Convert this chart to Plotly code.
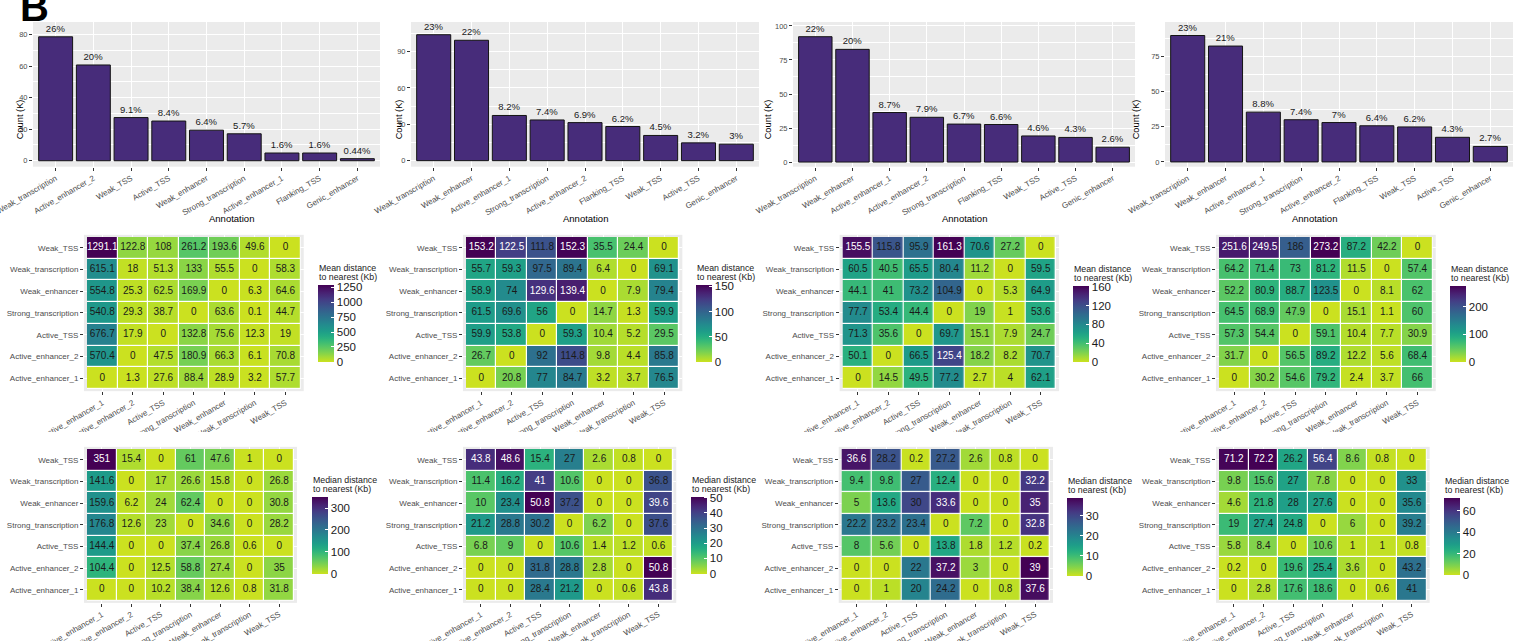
import numpy as np
import plotly.graph_objects as go

W, H = 1515, 641
FONT = "Liberation Sans, Arial, Helvetica, sans-serif"
GREY_TXT = "#4d4d4d"

# ---------------- bar panels: region counts (K) per chromatin state ----------------
bar1_labels = ["Weak_transcription", "Active_enhancer_2", "Weak_TSS", "Active_TSS", "Weak_enhancer",
               "Strong_transcription", "Active_enhancer_1", "Flanking_TSS", "Genic_enhancer"]
bar1_counts = [78.7, 60.8, 27.4, 25.2, 19.4, 17.1, 4.9, 4.9, 1.3]
bar1_pct = ["26%", "20%", "9.1%", "8.4%", "6.4%", "5.7%", "1.6%", "1.6%", "0.44%"]

bar2_labels = ["Weak_transcription", "Weak_enhancer", "Active_enhancer_1", "Strong_transcription",
               "Active_enhancer_2", "Flanking_TSS", "Weak_TSS", "Active_TSS", "Genic_enhancer"]
bar2_counts = [104.0, 99.4, 37.3, 33.6, 31.4, 28.2, 20.8, 14.7, 13.6]
bar2_pct = ["23%", "22%", "8.2%", "7.4%", "6.9%", "6.2%", "4.5%", "3.2%", "3%"]

bar3_labels = ["Weak_transcription", "Weak_enhancer", "Active_enhancer_1", "Active_enhancer_2",
               "Strong_transcription", "Flanking_TSS", "Weak_TSS", "Active_TSS", "Genic_enhancer"]
bar3_counts = [92.1, 82.8, 36.4, 32.9, 27.9, 27.6, 19.2, 18.1, 10.9]
bar3_pct = ["22%", "20%", "8.7%", "7.9%", "6.7%", "6.6%", "4.6%", "4.3%", "2.6%"]

bar4_labels = ["Weak_transcription", "Weak_enhancer", "Active_enhancer_1", "Strong_transcription",
               "Active_enhancer_2", "Flanking_TSS", "Weak_TSS", "Active_TSS", "Genic_enhancer"]
bar4_counts = [89.9, 82.4, 35.4, 30.0, 28.0, 25.7, 24.9, 17.5, 11.0]
bar4_pct = ["23%", "21%", "8.8%", "7.4%", "7%", "6.4%", "6.2%", "4.3%", "2.7%"]

# ---------------- heatmaps: distance to nearest region of another state (Kb) ----------------
rows = ["Weak_TSS", "Weak_transcription", "Weak_enhancer", "Strong_transcription",
        "Active_TSS", "Active_enhancer_2", "Active_enhancer_1"]          # top to bottom
cols = ["Active_enhancer_1", "Active_enhancer_2", "Active_TSS", "Strong_transcription",
        "Weak_enhancer", "Weak_transcription", "Weak_TSS"]

mean1 = [[1291.1, 122.8, 108, 261.2, 193.6, 49.6, 0],
         [615.1, 18, 51.3, 133, 55.5, 0, 58.3],
         [554.8, 25.3, 62.5, 169.9, 0, 6.3, 64.6],
         [540.8, 29.3, 38.7, 0, 63.6, 0.1, 44.7],
         [676.7, 17.9, 0, 132.8, 75.6, 12.3, 19],
         [570.4, 0, 47.5, 180.9, 66.3, 6.1, 70.8],
         [0, 1.3, 27.6, 88.4, 28.9, 3.2, 57.7]]
mean2 = [[153.2, 122.5, 111.8, 152.3, 35.5, 24.4, 0],
         [55.7, 59.3, 97.5, 89.4, 6.4, 0, 69.1],
         [58.9, 74, 129.6, 139.4, 0, 7.9, 79.4],
         [61.5, 69.6, 56, 0, 14.7, 1.3, 59.9],
         [59.9, 53.8, 0, 59.3, 10.4, 5.2, 29.5],
         [26.7, 0, 92, 114.8, 9.8, 4.4, 85.8],
         [0, 20.8, 77, 84.7, 3.2, 3.7, 76.5]]
mean3 = [[155.5, 115.8, 95.9, 161.3, 70.6, 27.2, 0],
         [60.5, 40.5, 65.5, 80.4, 11.2, 0, 59.5],
         [44.1, 41, 73.2, 104.9, 0, 5.3, 64.9],
         [77.7, 53.4, 44.4, 0, 19, 1, 53.6],
         [71.3, 35.6, 0, 69.7, 15.1, 7.9, 24.7],
         [50.1, 0, 66.5, 125.4, 18.2, 8.2, 70.7],
         [0, 14.5, 49.5, 77.2, 2.7, 4, 62.1]]
mean4 = [[251.6, 249.5, 186, 273.2, 87.2, 42.2, 0],
         [64.2, 71.4, 73, 81.2, 11.5, 0, 57.4],
         [52.2, 80.9, 88.7, 123.5, 0, 8.1, 62],
         [64.5, 68.9, 47.9, 0, 15.1, 1.1, 60],
         [57.3, 54.4, 0, 59.1, 10.4, 7.7, 30.9],
         [31.7, 0, 56.5, 89.2, 12.2, 5.6, 68.4],
         [0, 30.2, 54.6, 79.2, 2.4, 3.7, 66]]

median1 = [[351, 15.4, 0, 61, 47.6, 1, 0],
           [141.6, 0, 17, 26.6, 15.8, 0, 26.8],
           [159.6, 6.2, 24, 62.4, 0, 0, 30.8],
           [176.8, 12.6, 23, 0, 34.6, 0, 28.2],
           [144.4, 0, 0, 37.4, 26.8, 0.6, 0],
           [104.4, 0, 12.5, 58.8, 27.4, 0, 35],
           [0, 0, 10.2, 38.4, 12.6, 0.8, 31.8]]
median2 = [[43.8, 48.6, 15.4, 27, 2.6, 0.8, 0],
           [11.4, 16.2, 41, 10.6, 0, 0, 36.8],
           [10, 23.4, 50.8, 37.2, 0, 0, 39.6],
           [21.2, 28.8, 30.2, 0, 6.2, 0, 37.6],
           [6.8, 9, 0, 10.6, 1.4, 1.2, 0.6],
           [0, 0, 31.8, 28.8, 2.8, 0, 50.8],
           [0, 0, 28.4, 21.2, 0, 0.6, 43.8]]
median3 = [[36.6, 28.2, 0.2, 27.2, 2.6, 0.8, 0],
           [9.4, 9.8, 27, 12.4, 0, 0, 32.2],
           [5, 13.6, 30, 33.6, 0, 0, 35],
           [22.2, 23.2, 23.4, 0, 7.2, 0, 32.8],
           [8, 5.6, 0, 13.8, 1.8, 1.2, 0.2],
           [0, 0, 22, 37.2, 3, 0, 39],
           [0, 1, 20, 24.2, 0, 0.8, 37.6]]
median4 = [[71.2, 72.2, 26.2, 56.4, 8.6, 0.8, 0],
           [9.8, 15.6, 27, 7.8, 0, 0, 33],
           [4.6, 21.8, 28, 27.6, 0, 0, 35.6],
           [19, 27.4, 24.8, 0, 6, 0, 39.2],
           [5.8, 8.4, 0, 10.6, 1, 1, 0.8],
           [0.2, 0, 19.6, 25.4, 3.6, 0, 43.2],
           [0, 2.8, 17.6, 18.6, 0, 0.6, 41]]


def fx(px):
    return px / W


def fy(py):
    return 1 - py / H


# reversed viridis, trimmed before the brightest yellow
VIRIDIS = ["#440154", "#471365", "#482475", "#463480", "#414487", "#3b528b", "#355f8d",
           "#2f6c8e", "#2a788e", "#25848e", "#21918c", "#1e9c89", "#22a884", "#2fb47c",
           "#44bf70", "#5ec962", "#7ad151", "#9bd93c", "#bddf26", "#dfe318", "#fde725"]
VIR_RGB = np.array([[int(h[i:i + 2], 16) for i in (1, 3, 5)] for h in VIRIDIS], float)


def viridis_at(v):
    pos = np.linspace(0, 1, len(VIRIDIS))
    return [np.interp(v, pos, VIR_RGB[:, k]) for k in range(3)]


END = 0.92
fill_scale = []
for t in np.linspace(0, 1, 41):
    r, g, b = viridis_at(END * (1 - t))
    fill_scale.append([float(t), f"rgb({r:.0f},{g:.0f},{b:.0f})"])

fig = go.Figure()
layout = dict(
    width=W, height=H, margin=dict(l=0, r=0, t=0, b=0, autoexpand=False),
    paper_bgcolor="white", plot_bgcolor="#ebebeb",
    font=dict(family=FONT, color="black"),
    showlegend=False, bargap=0.1,
)
annotations = []
shapes = []

# ---------------- bar charts ----------------
bar_sets = [(bar1_labels, bar1_counts, bar1_pct), (bar2_labels, bar2_counts, bar2_pct),
            (bar3_labels, bar3_counts, bar3_pct), (bar4_labels, bar4_counts, bar4_pct)]
bar_panels_x = [(33, 380), (411, 759), (793, 1135), (1165, 1513)]
bar_ranges = [(-3.8, 88.1), (-5.0, 114.5), (-3.4, 102.9), (-3.4, 99.5)]
bar_dticks = [20, 30, 25, 25]
count_title_x = [13, 392, 768, 1143]
BAR_TOP, BAR_BOT = 22, 166.7

for i, ((labs, cnts, pct), (x0, x1), rng, dt, tx) in enumerate(
        zip(bar_sets, bar_panels_x, bar_ranges, bar_dticks, count_title_x)):
    n = i + 1
    xa, ya = f"x{n}", f"y{n}"
    fig.add_trace(go.Bar(
        x=labs, y=cnts, text=pct, textposition="outside",
        textfont=dict(size=9.5, color="#1a1a1a", family=FONT),
        constraintext="none", cliponaxis=False,
        marker=dict(color="#472c7a", line=dict(color="#141414", width=1)),
        xaxis=xa, yaxis=ya, hoverinfo="skip"))
    layout[f"xaxis{n}"] = dict(
        domain=[fx(x0), fx(x1)], anchor=ya, range=[-0.6, len(labs) - 0.4], automargin=False,
        type="category", categoryorder="array", categoryarray=labs,
        tickangle=-30, tickfont=dict(size=8, color=GREY_TXT),
        ticks="outside", ticklen=3, tickcolor="#333333",
        showgrid=True, gridcolor="white", gridwidth=1, zeroline=False, showline=False)
    layout[f"yaxis{n}"] = dict(
        domain=[fy(BAR_BOT), fy(BAR_TOP)], anchor=xa, range=list(rng), automargin=False,
        tick0=0, dtick=dt, tickfont=dict(size=7.5, color=GREY_TXT),
        ticks="outside", ticklen=3, tickcolor="#333333",
        showgrid=True, gridcolor="white", gridwidth=1, zeroline=False, showline=False,
        minor=dict(tick0=dt / 2, dtick=dt, showgrid=True, gridcolor="white", gridwidth=0.5))
    annotations.append(dict(x=fx(tx), y=fy((BAR_TOP + BAR_BOT) / 2 + 3), xref="paper", yref="paper",
                            text="Count (K)", textangle=-90, showarrow=False,
                            font=dict(size=9.3, color="black")))
    annotations.append(dict(x=fx((x0 + x1) / 2), y=fy(219), xref="paper", yref="paper",
                            text="Annotation", showarrow=False, font=dict(size=9.5, color="black")))

# ---------------- heatmaps ----------------
heat_sets = [
    # data, tiles x-range, tiles y-range, colorbar left, colorbar top/bottom, tick step, title
    (mean1, (87, 300.7), (237, 389), 318, (285, 361.7), 250, "Mean distance"),
    (mean2, (466, 679.3), (237, 389), 696, (285, 361.7), 50, "Mean distance"),
    (mean3, (842.7, 1056), (237, 389), 1073, (286, 362.3), 40, "Mean distance"),
    (mean4, (1219, 1432.7), (237, 389), 1450, (286, 362.3), 100, "Mean distance"),
    (median1, (87, 294), (449, 600.7), 312, (496.7, 574), 100, "Median distance"),
    (median2, (466, 673.3), (449, 600.7), 690.7, (496.7, 573.3), 10, "Median distance"),
    (median3, (841.7, 1050), (449, 600.7), 1066.7, (497.7, 576), 10, "Median distance"),
    (median4, (1219, 1426.7), (449, 600.7), 1444, (497.7, 575), 20, "Median distance"),
]

for j, (z, (tx0, tx1), (ty0, ty1), cbx, (cby0, cby1), cdt, ctitle) in enumerate(heat_sets):
    n = j + 5
    xa, ya = f"x{n}", f"y{n}"
    zmax = max(max(r) for r in z)
    cw = (tx1 - tx0) / 7
    rh = (ty1 - ty0) / 7
    fig.add_trace(go.Heatmap(
        z=z, x=cols, y=rows, colorscale=fill_scale, zmin=0, zmax=zmax,
        xgap=1.2, ygap=1.2, hoverinfo="skip", xaxis=xa, yaxis=ya,
        colorbar=dict(
            x=fx(cbx), xanchor="left", xpad=0,
            y=fy((cby0 + cby1) / 2), yanchor="middle", ypad=0,
            len=cby1 - cby0, lenmode="pixels", thickness=16, thicknessmode="pixels",
            outlinewidth=0, ticks="inside", ticklen=3, tickcolor="white", tickwidth=1,
            tick0=0, dtick=cdt, tickfont=dict(size=11.5, color="#1a1a1a", family=FONT))))
    # cell value labels
    xs, ys, txt, colr = [], [], [], []
    for r_i, rname in enumerate(rows):
        for c_i, cname in enumerate(cols):
            v = z[r_i][c_i]
            xs.append(cname)
            ys.append(rname)
            txt.append(f"{v:g}")
            colr.append("white" if v >= 0.775 * zmax else "#1a1a1a")
    fig.add_trace(go.Scatter(
        x=xs, y=ys, mode="text", text=txt,
        textfont=dict(size=10, color=colr, family=FONT),
        hoverinfo="skip", xaxis=xa, yaxis=ya, cliponaxis=False))
    layout[f"xaxis{n}"] = dict(
        domain=[fx(tx0 - 0.1 * cw), fx(tx1 + 0.1 * cw)], anchor=ya, range=[-0.6, 6.6],
        automargin=False,
        type="category", categoryorder="array", categoryarray=cols,
        tickangle=-30, tickfont=dict(size=8, color=GREY_TXT),
        ticks="outside", ticklen=3, tickcolor="#333333",
        showgrid=True, gridcolor="white", gridwidth=1, zeroline=False, showline=False)
    layout[f"yaxis{n}"] = dict(
        domain=[fy(ty1 + 0.1 * rh), fy(ty0 - 0.1 * rh)], anchor=xa, range=[-0.6, 6.6],
        automargin=False,
        type="category", categoryorder="array", categoryarray=rows[::-1],
        tickfont=dict(size=8, color=GREY_TXT),
        ticks="outside", ticklen=3, tickcolor="#333333",
        showgrid=True, gridcolor="white", gridwidth=1, zeroline=False, showline=False)
    # white tile borders
    shapes.append(dict(type="rect", xref=xa, yref=ya, x0=-0.5, x1=6.5, y0=-0.5, y1=6.5,
                       fillcolor="white", line=dict(width=0), layer="below"))
    # two-line legend title
    for line_txt, off in ((ctitle, 17), ("to nearest (Kb)", 8)):
        annotations.append(dict(x=fx(cbx), y=fy(cby0 - off), xref="paper", yref="paper",
                                xanchor="left", yanchor="middle", align="left",
                                text=line_txt, showarrow=False, borderpad=0,
                                font=dict(size=8.8, color="#1a1a1a")))

# trim the rotated mean-heatmap labels above the median row
shapes.append(dict(type="rect", xref="paper", yref="paper", x0=0, x1=1,
                   y0=fy(445.5), y1=fy(432), fillcolor="white", line=dict(width=0), layer="above"))

# panel letter
annotations.append(dict(x=fx(18), y=fy(31), xref="paper", yref="paper", xanchor="left",
                        yanchor="bottom", text="<b>B</b>", showarrow=False,
                        font=dict(size=40, color="black")))

layout["annotations"] = annotations
layout["shapes"] = shapes
fig.update_layout(**layout)
fig.write_html("out.html")
